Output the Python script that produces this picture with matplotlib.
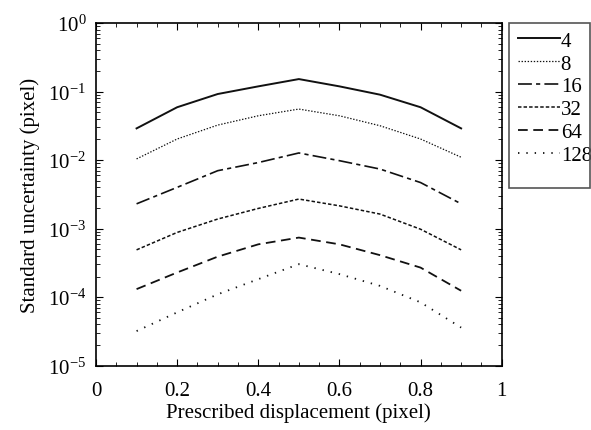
import matplotlib
matplotlib.use("agg")
import matplotlib.pyplot as plt
from matplotlib.patches import Rectangle
from matplotlib.ticker import MultipleLocator, LogLocator, NullFormatter, FormatStrFormatter

# prescribed displacement (pixel)
disp = [0.1, 0.2, 0.3, 0.4, 0.5, 0.6, 0.7, 0.8, 0.9]

# standard uncertainty (pixel) per subset size
u4 = [0.029, 0.059, 0.092, 0.119, 0.152, 0.119, 0.090, 0.059, 0.029]
u8 = [0.0104, 0.0203, 0.0324, 0.0443, 0.0555, 0.0443, 0.0317, 0.0203, 0.011]
u16 = [0.0023, 0.0040, 0.0070, 0.0092, 0.0127, 0.0098, 0.0074, 0.0047, 0.0023]
u32 = [0.00049, 0.00088, 0.00138, 0.00197, 0.0027, 0.00215, 0.00163, 0.00098, 0.00049]
u64 = [0.000131, 0.000229, 0.00039, 0.00059, 0.00074, 0.00059, 0.00041, 0.00027, 0.000124]
u128 = [0.000032, 0.000060, 0.00011, 0.000183, 0.000303, 0.000217, 0.000146, 0.000084, 0.000036]

labels = ['4', '8', '16', '32', '64', '128']

plt.rcParams['font.family'] = ['Liberation Serif', 'DejaVu Serif']
plt.rcParams['mathtext.fontset'] = 'stix'
plt.rcParams['lines.scale_dashes'] = False

fig = plt.figure(figsize=(5.91, 4.31), dpi=100)
ax = fig.add_axes([96 / 591, 1 - 366.7 / 431, 405.7 / 591, 342.7 / 431])

styles = [
    dict(linestyle='-', lw=1.4),
    dict(linestyle=(0, (1.0, 1.2)), lw=0.9),
    dict(linestyle=(0, (10, 3, 3, 3)), lw=1.2),
    dict(linestyle=(0, (2.5, 1.5)), lw=1.1),
    dict(linestyle=(0, (7, 4)), lw=1.3),
    dict(linestyle=(0, (1, 5)), lw=1.3),
]
series = [u4, u8, u16, u32, u64, u128]
for vals, lab, st in zip(series, labels, styles):
    ax.plot(disp, vals, color='#111111', label=lab, **st)

ax.set_yscale('log')
ax.set_xlim(0, 1)
ax.set_ylim(1e-5, 1e0)
ax.xaxis.set_major_locator(MultipleLocator(0.2))
ax.xaxis.set_minor_locator(MultipleLocator(0.05))
ax.xaxis.set_major_formatter(FormatStrFormatter('%g'))
ax.yaxis.set_major_locator(LogLocator(base=10, numticks=10))
ax.yaxis.set_minor_locator(LogLocator(base=10, subs=range(2, 10), numticks=20))
ax.yaxis.set_minor_formatter(NullFormatter())
ax.tick_params(which='both', direction='in', top=True, right=True, labelsize=15)
ax.tick_params(which='major', length=5)
ax.tick_params(which='minor', length=3)
ax.tick_params(axis='x', pad=11)
ax.tick_params(axis='y', pad=7)
for sp in ax.spines.values():
    sp.set_linewidth(1.2)

ax.set_xlabel('Prescribed displacement (pixel)', fontsize=15, labelpad=2)
ax.set_ylabel('Standard uncertainty (pixel)', fontsize=15, labelpad=6)

# legend box drawn separately so its padding matches the original
leg = ax.legend(loc='upper left', bbox_to_anchor=(518 / 591, 1 - 32 / 431),
                bbox_transform=fig.transFigure, fontsize=15, frameon=False,
                borderaxespad=0, borderpad=0, handlelength=2.0,
                handletextpad=0.05, labelspacing=0.16)
fig.add_artist(Rectangle((509.3 / 591, 1 - 189 / 431), 81 / 591, 165 / 431,
                         transform=fig.transFigure, fill=False,
                         edgecolor='#555555', lw=1.2))

fig.savefig('out.png', dpi=100)
